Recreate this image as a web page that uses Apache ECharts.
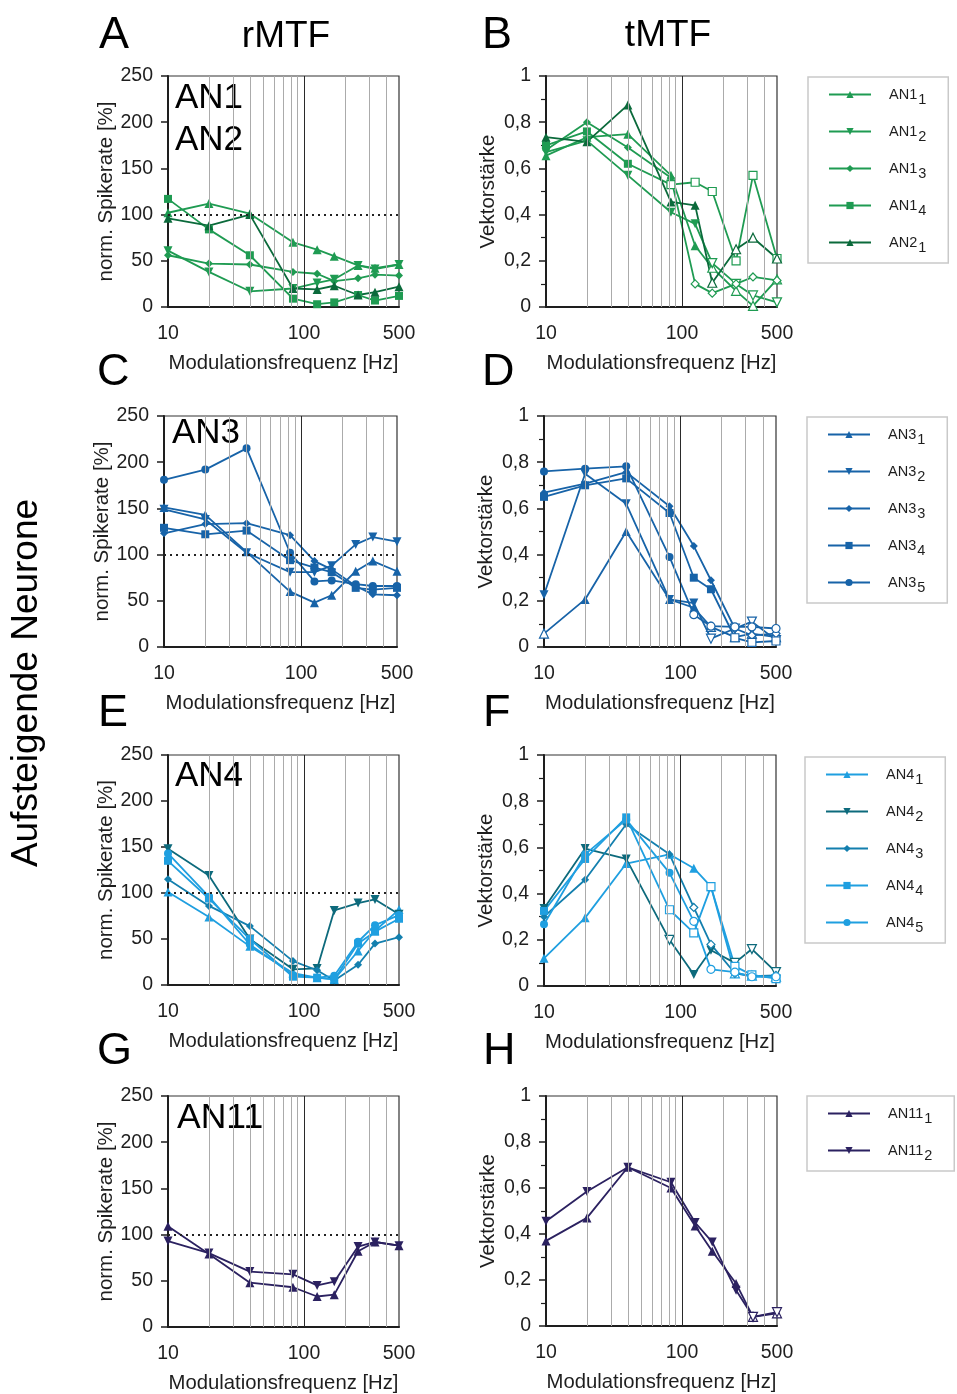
<!DOCTYPE html>
<html>
<head>
<meta charset="utf-8">
<script src="https://cdn.jsdelivr.net/npm/echarts@6/dist/echarts.min.js"></script>
<style>
  html, body { margin: 0; padding: 0; background: #fff; }
  #chart { width: 957px; height: 1394px; }
</style>
</head>
<body>
<div id="chart"></div>
<script>
// Modulation frequencies (Hz) at which each neuron was tested
const FREQ = [10, 20, 40, 83, 125, 167, 250, 333, 500];
const X_LABELS = [10, 100, 500];
const MINOR_FREQ = [20, 30, 40, 50, 60, 70, 80, 90, 200, 300, 400];
const DECADE_FREQ = [100];

// rMTF: normalised spike rate [%]
const A_AN1_1 = [102, 112, 101, 70, 62, 55, 45, 42, 46];
const A_AN1_2 = [61, 38, 17, 20, 26, 30, 45, 41, 46];
const A_AN1_3 = [56, 47, 46, 38, 36, 28, 31, 35, 34];
const A_AN1_4 = [117, 84, 56, 9, 3, 5, 13, 7, 12];
const A_AN2_1 = [96, 88, 100, 20, 19, 23, 13, 16, 22];

const C_AN3_1 = [151, 143, 103, 60, 48, 56, 82, 93, 82];
const C_AN3_2 = [149, 138, 102, 81, 81, 88, 111, 119, 114];
const C_AN3_3 = [123, 133, 134, 121, 93, 84, 66, 57, 56];
const C_AN3_4 = [129, 122, 126, 94, 86, 81, 64, 62, 64];
const C_AN3_5 = [181, 192, 215, 102, 71, 72, 68, 66, 66];

const E_AN4_1 = [101, 74, 42, 13, 8, 6, 37, 59, 82];
const E_AN4_2 = [148, 119, 50, 17, 18, 81, 89, 93, 77];
const E_AN4_3 = [115, 86, 64, 26, 16, 5, 22, 45, 52];
const E_AN4_4 = [135, 94, 50, 9, 8, 6, 45, 58, 72];
const E_AN4_5 = [143, 96, 44, 11, 8, 10, 47, 65, 76];

const G_AN11_1 = [109, 79, 48, 43, 33, 35, 82, 92, 88];
const G_AN11_2 = [93, 80, 60, 57, 45, 49, 87, 92, 88];

// tMTF: vector strength, plus flags for non-significant values (open symbols)
const B_AN1_1 = [0.655, 0.735, 0.748, 0.57, 0.265, 0.17, 0.07, 0.005, 0.12];
const B_AN1_2 = [0.67, 0.72, 0.57, 0.41, 0.36, 0.19, 0.10, 0.05, 0.02];
const B_AN1_3 = [0.68, 0.80, 0.69, 0.56, 0.10, 0.06, 0.10, 0.13, 0.115];
const B_AN1_4 = [0.70, 0.76, 0.62, 0.53, 0.54, 0.50, 0.20, 0.57, 0.21];
const B_AN2_1 = [0.735, 0.715, 0.875, 0.455, 0.44, 0.105, 0.25, 0.30, 0.21];
const B_OPEN_AN1_1 = [0, 0, 0, 0, 0, 1, 1, 1, 1];
const B_OPEN_AN1_2 = [0, 0, 0, 0, 0, 1, 1, 1, 1];
const B_OPEN_AN1_3 = [0, 0, 0, 0, 1, 1, 1, 1, 1];
const B_OPEN_AN1_4 = [0, 0, 0, 1, 1, 1, 1, 1, 1];
const B_OPEN_AN2_1 = [0, 0, 0, 0, 0, 1, 1, 1, 1];

const D_AN3_1 = [0.058, 0.206, 0.50, 0.206, 0.17, 0.087, 0.043, 0.058, 0.043];
const D_AN3_2 = [0.226, 0.75, 0.62, 0.206, 0.19, 0.036, 0.08, 0.11, 0.03];
const D_AN3_3 = [0.668, 0.707, 0.757, 0.609, 0.437, 0.289, 0.08, 0.05, 0.058];
const D_AN3_4 = [0.65, 0.70, 0.73, 0.58, 0.30, 0.25, 0.04, 0.02, 0.026];
const D_AN3_5 = [0.76, 0.772, 0.782, 0.39, 0.14, 0.09, 0.087, 0.087, 0.08];
const D_OPEN_AN3_1 = [1, 0, 0, 0, 0, 1, 1, 1, 1];
const D_OPEN_AN3_2 = [0, 0, 0, 0, 0, 1, 1, 1, 1];
const D_OPEN_AN3_3 = [0, 0, 0, 0, 0, 0, 1, 1, 1];
const D_OPEN_AN3_4 = [0, 0, 0, 0, 0, 0, 1, 1, 1];
const D_OPEN_AN3_5 = [0, 0, 0, 0, 1, 1, 1, 1, 1];

const F_AN4_1 = [0.12, 0.295, 0.53, 0.57, 0.51, 0.43, 0.055, 0.045, 0.04];
const F_AN4_2 = [0.335, 0.595, 0.55, 0.20, 0.05, 0.155, 0.10, 0.16, 0.06];
const F_AN4_3 = [0.30, 0.46, 0.70, 0.57, 0.34, 0.18, 0.055, 0.043, 0.046];
const F_AN4_4 = [0.325, 0.55, 0.73, 0.33, 0.23, 0.43, 0.085, 0.048, 0.032];
const F_AN4_5 = [0.267, 0.57, 0.72, 0.49, 0.28, 0.072, 0.06, 0.04, 0.04];
const F_OPEN_AN4_1 = [0, 0, 0, 0, 0, 0, 1, 1, 1];
const F_OPEN_AN4_2 = [0, 0, 0, 1, 0, 0, 1, 1, 1];
const F_OPEN_AN4_3 = [0, 0, 0, 0, 1, 1, 1, 1, 1];
const F_OPEN_AN4_4 = [0, 0, 0, 1, 1, 1, 1, 1, 1];
const F_OPEN_AN4_5 = [0, 0, 0, 0, 1, 1, 1, 1, 1];

const H_AN11_1 = [0.37, 0.47, 0.69, 0.60, 0.435, 0.325, 0.185, 0.04, 0.055];
const H_AN11_2 = [0.455, 0.585, 0.69, 0.625, 0.45, 0.365, 0.155, 0.04, 0.06];
const H_OPEN_AN11_1 = [0, 0, 0, 0, 0, 0, 0, 1, 1];
const H_OPEN_AN11_2 = [0, 0, 0, 0, 0, 0, 0, 1, 1];

// Styling
const FONT = "'Liberation Sans', Arial, Helvetica, sans-serif";
const INK = '#1e1e1e';
const COLORS = {
  AN1_1: '#1f9b52', AN1_2: '#1f9b52', AN1_3: '#1f9b52', AN1_4: '#1f9b52',
  AN2_1: '#0b6a3b',
  AN3_1: '#1763a8', AN3_2: '#1763a8', AN3_3: '#1763a8', AN3_4: '#1763a8', AN3_5: '#1763a8',
  AN4_1: '#1f9fe0', AN4_2: '#0d6a7c', AN4_3: '#137fae', AN4_4: '#1f9fe0', AN4_5: '#1f9fe0',
  AN11_1: '#2b2160', AN11_2: '#2b2160'
};
// symbol per recording index: 1 ▲, 2 ▼, 3 ◆, 4 ■, 5 ●
const SYMBOLS = {
  '1': { symbol: 'triangle', rotate: 0, size: 9 },
  '2': { symbol: 'triangle', rotate: 180, size: 9 },
  '3': { symbol: 'diamond', rotate: 0, size: 8 },
  '4': { symbol: 'rect', rotate: 0, size: 8 },
  '5': { symbol: 'circle', rotate: 0, size: 8 }
};

const panels = [
  { box: { left: 168, top: 76, width: 231, height: 231 }, kind: 'rate',
    lines: [['AN1_1', A_AN1_1], ['AN1_2', A_AN1_2], ['AN1_3', A_AN1_3], ['AN1_4', A_AN1_4], ['AN2_1', A_AN2_1]] },
  { box: { left: 546, top: 76, width: 231, height: 231 }, kind: 'vs',
    lines: [['AN1_1', B_AN1_1, B_OPEN_AN1_1], ['AN1_2', B_AN1_2, B_OPEN_AN1_2], ['AN1_3', B_AN1_3, B_OPEN_AN1_3],
            ['AN1_4', B_AN1_4, B_OPEN_AN1_4], ['AN2_1', B_AN2_1, B_OPEN_AN2_1]] },
  { box: { left: 164, top: 416, width: 233, height: 231 }, kind: 'rate',
    lines: [['AN3_1', C_AN3_1], ['AN3_2', C_AN3_2], ['AN3_3', C_AN3_3], ['AN3_4', C_AN3_4], ['AN3_5', C_AN3_5]] },
  { box: { left: 544, top: 416, width: 232, height: 231 }, kind: 'vs',
    lines: [['AN3_1', D_AN3_1, D_OPEN_AN3_1], ['AN3_2', D_AN3_2, D_OPEN_AN3_2], ['AN3_3', D_AN3_3, D_OPEN_AN3_3],
            ['AN3_4', D_AN3_4, D_OPEN_AN3_4], ['AN3_5', D_AN3_5, D_OPEN_AN3_5]] },
  { box: { left: 168, top: 755, width: 231, height: 230 }, kind: 'rate',
    lines: [['AN4_1', E_AN4_1], ['AN4_2', E_AN4_2], ['AN4_3', E_AN4_3], ['AN4_4', E_AN4_4], ['AN4_5', E_AN4_5]] },
  { box: { left: 544, top: 755, width: 232, height: 231 }, kind: 'vs',
    lines: [['AN4_1', F_AN4_1, F_OPEN_AN4_1], ['AN4_2', F_AN4_2, F_OPEN_AN4_2], ['AN4_3', F_AN4_3, F_OPEN_AN4_3],
            ['AN4_4', F_AN4_4, F_OPEN_AN4_4], ['AN4_5', F_AN4_5, F_OPEN_AN4_5]] },
  { box: { left: 168, top: 1096, width: 231, height: 231 }, kind: 'rate',
    lines: [['AN11_1', G_AN11_1], ['AN11_2', G_AN11_2]] },
  { box: { left: 546, top: 1096, width: 231, height: 230 }, kind: 'vs',
    lines: [['AN11_1', H_AN11_1, H_OPEN_AN11_1], ['AN11_2', H_AN11_2, H_OPEN_AN11_2]] }
];

const legendBoxes = [
  { names: ['AN1_1', 'AN1_2', 'AN1_3', 'AN1_4', 'AN2_1'], left: 808, top: 77 },
  { names: ['AN3_1', 'AN3_2', 'AN3_3', 'AN3_4', 'AN3_5'], left: 807, top: 417 },
  { names: ['AN4_1', 'AN4_2', 'AN4_3', 'AN4_4', 'AN4_5'], left: 805, top: 757 },
  { names: ['AN11_1', 'AN11_2'], left: 807, top: 1096 }
];

const grid = [], xAxis = [], yAxis = [], series = [];

panels.forEach((p, i) => {
  grid.push(Object.assign({ show: true, borderColor: '#333', borderWidth: 1.2, backgroundColor: 'transparent' }, p.box));

  xAxis.push({
    type: 'log', logBase: 10, min: 10, max: 500, gridIndex: i,
    axisLine: { show: true, onZero: false, lineStyle: { color: INK, width: 2 } },
    axisTick: { show: false },
    axisLabel: { customValues: X_LABELS, color: INK, fontSize: 19.5, fontFamily: FONT, margin: 17,
                 formatter: v => String(Math.round(v)) },
    splitLine: { show: false },
    minorTick: { show: false }, minorSplitLine: { show: false },
    name: 'Modulationsfrequenz [Hz]', nameLocation: 'middle', nameGap: 46,
    nameTextStyle: { color: INK, fontSize: 20.3, fontFamily: FONT }
  });

  const isRate = p.kind === 'rate';
  yAxis.push({
    type: 'value', gridIndex: i,
    min: 0, max: isRate ? 250 : 1, interval: isRate ? 50 : 0.2,
    axisLine: { show: true, lineStyle: { color: INK, width: 2 } },
    axisTick: { show: true, length: 7, lineStyle: { color: INK, width: 1.5 } },
    minorTick: { show: !isRate, splitNumber: 2, length: 5, lineStyle: { color: INK, width: 1.2 } },
    axisLabel: {
      color: INK, fontSize: 19.5, fontFamily: FONT, margin: 15,
      formatter: v => isRate ? String(v) : (v === 0 ? '0' : v === 1 ? '1' : v.toFixed(1).replace('.', ','))
    },
    splitLine: { show: false },
    name: isRate ? 'norm. Spikerate [%]' : 'Vektorstärke',
    nameLocation: 'middle', nameGap: isRate ? 51 : 47,
    nameTextStyle: { color: INK, fontSize: 20.5, fontFamily: FONT }
  });

  // vertical grid lines at the logarithmic subdivisions, dotted 100 % reference
  const guides = MINOR_FREQ.map(f => ({ xAxis: f, lineStyle: { color: '#ababab', width: 1, type: 'solid' } }))
    .concat(DECADE_FREQ.map(f => ({ xAxis: f, lineStyle: { color: '#2a2a2a', width: 1, type: 'solid' } })));
  if (isRate) guides.push({ yAxis: 100, lineStyle: { color: '#222', width: 2, type: [2, 4] } });
  series.push({
    type: 'line', name: '_guides' + i, xAxisIndex: i, yAxisIndex: i, data: [], silent: true, z: 1,
    animation: false,
    markLine: { silent: true, symbol: 'none', animation: false, label: { show: false }, data: guides }
  });

  p.lines.forEach(([name, vals, open]) => {
    const col = COLORS[name];
    const sym = SYMBOLS[name.split('_')[1]];
    series.push({
      type: 'line', name, xAxisIndex: i, yAxisIndex: i, z: 3, animation: false,
      symbol: sym.symbol, symbolRotate: sym.rotate, symbolSize: sym.size, showAllSymbol: true,
      lineStyle: { color: col, width: 1.8 },
      itemStyle: { color: col },
      data: FREQ.map((f, k) => ({
        value: [f, vals[k]],
        itemStyle: open && open[k]
          ? { color: '#fff', borderColor: col, borderWidth: 1.2 }
          : { color: col, borderWidth: 0 }
      }))
    });
  });
});

const legend = legendBoxes.map(l => ({
  data: l.names, orient: 'vertical', left: l.left, top: l.top,
  padding: [10, 22, 8, 20], itemWidth: 42, itemHeight: 9, itemGap: 17,
  borderColor: '#c9c9c9', borderWidth: 1.5, selectedMode: false,
  formatter: n => { const [a, b] = n.split('_'); return '{b|' + a + '}{s|' + b + '}'; },
  textStyle: {
    fontFamily: FONT, color: INK,
    rich: {
      b: { fontSize: 14.5, fontFamily: FONT, color: INK, padding: [0, 0, 0, 13] },
      s: { fontSize: 14.5, fontFamily: FONT, color: INK, padding: [10, 0, 0, 1] }
    }
  }
}));

const txt = (text, x, y, size, extra) => Object.assign({
  type: 'text', x, y, silent: true,
  style: { text, font: size + 'px ' + FONT, fill: '#000', textAlign: 'left', textVerticalAlign: 'middle' }
}, extra || {});
const ctxt = (text, x, y, size) => ({
  type: 'text', x, y, silent: true,
  style: { text, font: size + 'px ' + FONT, fill: '#000', textAlign: 'center', textVerticalAlign: 'middle' }
});

const graphic = [
  txt('A', 99, 36, 45), txt('B', 482, 36, 45),
  txt('C', 97, 373, 45), txt('D', 482, 373, 45),
  txt('E', 98, 714, 45), txt('F', 483, 714, 45),
  txt('G', 97, 1052, 45), txt('H', 483, 1052, 45),
  ctxt('rMTF', 286, 37, 37), ctxt('tMTF', 668, 36, 37),
  txt('AN1', 175, 98, 35), txt('AN2', 175, 140, 35),
  txt('AN3', 172, 433, 35), txt('AN4', 175, 776, 35), txt('AN11', 177, 1118, 35.5),
  Object.assign(ctxt('Aufsteigende Neurone', 27, 683, 37), { rotation: Math.PI / 2 })
];

const chart = echarts.init(document.getElementById('chart'), null, { renderer: 'canvas' });
chart.setOption({
  animation: false,
  backgroundColor: '#fff',
  textStyle: { fontFamily: FONT },
  grid, xAxis, yAxis, series, legend, graphic
});
</script>
</body>
</html>
